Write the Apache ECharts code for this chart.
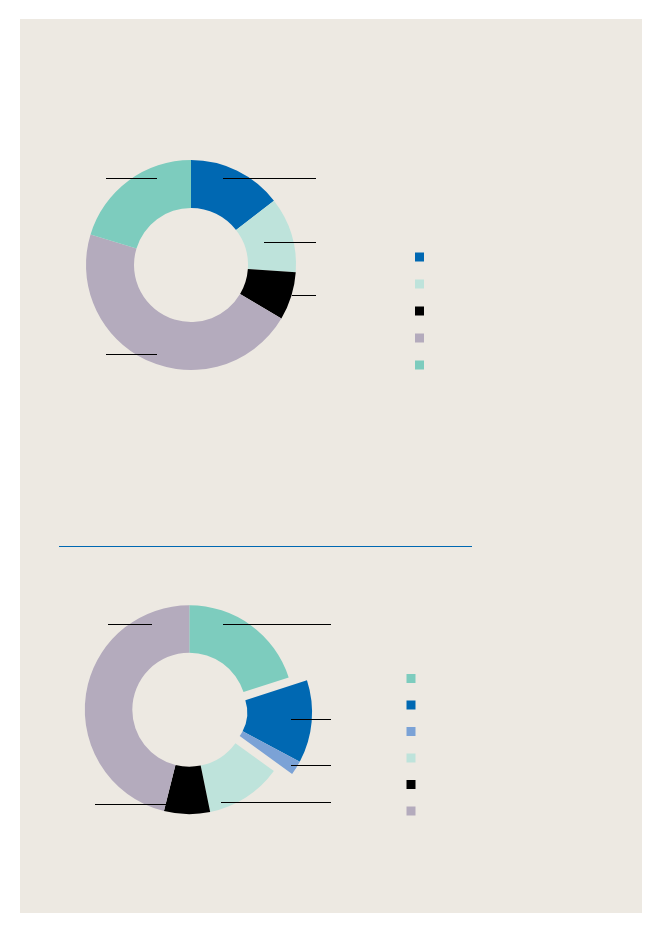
<!DOCTYPE html>
<html>
<head>
<meta charset="utf-8">
<script src="https://cdn.jsdelivr.net/npm/echarts@6.0.0/dist/echarts.min.js"></script>
<style>
  html, body { margin: 0; padding: 0; background: #ffffff; }
  #chart { width: 661px; height: 933px; }
</style>
</head>
<body>
<div id="chart"></div>
<script>
// top ring, clockwise from 12 o'clock (percent)
const names1 = ['A1', 'A2', 'A3', 'A4', 'A5'];
const values1 = [14.5, 11.6, 7.4, 46.2, 20.3];
const colors1 = ['#0068b2', '#bee3db', '#000000', '#b4abbd', '#7dccbe'];

// bottom ring, clockwise from 12 o'clock (percent)
const names2 = ['B1', 'B2', 'B3', 'B4', 'B5', 'B6'];
const values2 = [20.0, 12.8, 2.2, 11.8, 7.1, 46.1];
const colors2 = ['#7dccbe', '#0068b2', '#7ba2d6', '#bee3db', '#000000', '#b4abbd'];
// slices pulled out together from the bottom ring
const pulled2 = [1, 2];

// layout
const ring1 = { center: [191, 265], radius: [57, 105] };
const ring2 = { center: [189.3, 709.7], radius: [57, 104.5] };
const pullDist = 18.5;
const pullInner = 39.7;
// leader lines: [x1, x2, y]
const leaders = [
    [223, 316, 178.5], [264, 316, 242.5], [292, 316, 295.5], [106, 157, 354.5], [106, 157, 178.5],
    [223, 331, 624.5], [108, 152, 624.5], [291, 331, 719.5], [291, 331, 765.5], [221, 331, 802.5], [95, 167, 804.5]
];

let chart = echarts.init(document.getElementById('chart'));

// centre of the pulled group: moved along the group's middle angle
let total2 = values2.reduce((a, b) => a + b, 0);
let before = 0;
for (let i = 0; i < pulled2[0]; i++) before += values2[i];
let groupSum = 0;
pulled2.forEach(i => { groupSum += values2[i]; });
let mid = (before + groupSum / 2) / total2 * Math.PI * 2;
let pulledCenter = [ring2.center[0] + pullDist * Math.sin(mid), ring2.center[1] - pullDist * Math.cos(mid)];

let after = total2 - before - groupSum;
let pulledData = [{ name: 'gapBefore', value: before, itemStyle: { color: 'transparent' } }];
pulled2.forEach(i => {
    pulledData.push({ name: names2[i], value: values2[i], itemStyle: { color: colors2[i] } });
});
pulledData.push({ name: 'gapAfter', value: after, itemStyle: { color: 'transparent' } });

let pieBase = {
    type: 'pie',
    silent: true,
    clockwise: true,
    startAngle: 90,
    avoidLabelOverlap: false,
    label: { show: false },
    labelLine: { show: false },
    itemStyle: { borderWidth: 0 },
    emphasis: { disabled: true }
};

let graphics = [
    { type: 'rect', z: -10, shape: { x: 20, y: 19, width: 622, height: 894 }, style: { fill: '#ede9e2' } },
    { type: 'line', shape: { x1: 59, y1: 546.5, x2: 472, y2: 546.5 }, style: { stroke: '#0068b2', lineWidth: 1.2 } }
];
leaders.forEach(l => {
    graphics.push({ type: 'line', z: 10, shape: { x1: l[0], y1: l[2], x2: l[1], y2: l[2] }, style: { stroke: '#000000', lineWidth: 1 } });
});

let legendBase = {
    orient: 'vertical',
    icon: 'rect',
    itemWidth: 9,
    itemHeight: 9,
    padding: 0,
    selectedMode: false,
    formatter: function () { return ''; },
    textStyle: { fontSize: 9, lineHeight: 9 }
};

let option = {
    animation: false,
    backgroundColor: 'transparent',
    legend: [
        Object.assign({}, legendBase, { left: 415, top: 252.5, itemGap: 18, data: names1 }),
        Object.assign({}, legendBase, { left: 406.5, top: 674, itemGap: 17.5, data: names2 })
    ],
    graphic: graphics,
    series: [
        Object.assign({}, pieBase, {
            center: ring1.center,
            radius: ring1.radius,
            data: names1.map((n, i) => ({ name: n, value: values1[i], itemStyle: { color: colors1[i] } }))
        }),
        Object.assign({}, pieBase, {
            center: pulledCenter,
            radius: [pullInner, ring2.radius[1]],
            data: pulledData
        }),
        Object.assign({}, pieBase, {
            center: ring2.center,
            radius: ring2.radius,
            data: names2.map((n, i) => ({
                name: n,
                value: values2[i],
                itemStyle: { color: pulled2.indexOf(i) >= 0 ? 'transparent' : colors2[i] }
            }))
        })
    ]
};

chart.setOption(option);
</script>
</body>
</html>
